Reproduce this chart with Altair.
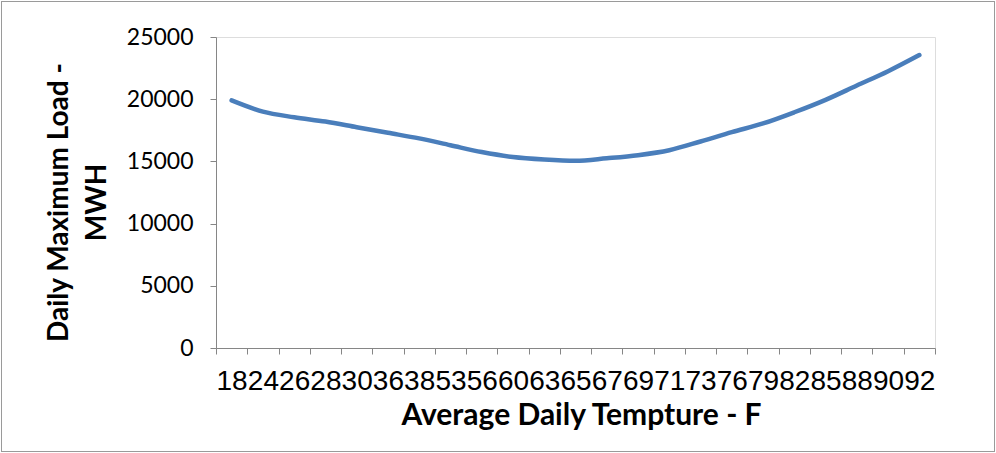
import altair as alt
import pandas as pd

temps = ["18", "24", "26", "28", "30", "36", "38", "53", "56", "60", "63", "65",
         "67", "69", "71", "73", "76", "79", "82", "85", "88", "90", "92"]
loads = [19900, 19000, 18550, 18200, 17750, 17300, 16850, 16300, 15750, 15350,
         15150, 15050, 15250, 15500, 15900, 16600, 17350, 18050, 18950, 19950,
         21100, 22250, 23550]

W, H = 719, 311

df = pd.DataFrame({"temp": temps, "load": loads})

gray = "#868686"

line = alt.Chart(df).mark_line(color="#4a7ebb", strokeWidth=4.5, interpolate="monotone",
                               strokeCap="round").encode(
    x=alt.X("temp:O", sort=temps, scale=alt.Scale(type="band", paddingInner=0, paddingOuter=0),
            axis=alt.Axis(tickBand="extent", grid=False, labelAngle=0,
                          labelFont="Liberation Sans", labelFontSize=28,
                          labelColor="#000000", labelBaseline="alphabetic", labelPadding=35,
                          labelAlign="center", labelOverlap=False, labelFlush=False,
                          tickSize=6, tickColor=gray, domainColor=gray,
                          title="Average Daily Tempture - F", titleFont="Lato",
                          titleFontWeight="bold", titleFontSize=30, titleColor="#000000",
                          titleX=365, titleY=76, titleBaseline="alphabetic",
                          titleAlign="center")),
    y=alt.Y("load:Q", scale=alt.Scale(domain=[0, 25000], nice=False),
            axis=alt.Axis(values=[0, 5000, 10000, 15000, 20000, 25000], grid=False,
                          format="d", labelFont="Lato", labelFontSize=23,
                          labelColor="#000000", labelPadding=17,
                          tickSize=6, tickColor=gray, domainColor=gray,
                          title=["Daily Maximum Load -", "MWH"], titleFont="Lato",
                          titleFontWeight="bold", titleFontSize=28, titleColor="#000000",
                          titleAngle=-90, titleX=-149, titleY=165,
                          titleBaseline="alphabetic", titleAlign="center",
                          titleLineHeight=38)),
)

border = alt.Chart(df).mark_rect(fill=None, stroke="#9a9a9a", strokeWidth=1).encode(
    x=alt.value(-214.5), x2=alt.value(778.5), y=alt.value(-35.5), y2=alt.value(414.5)
)

chart = alt.layer(border, line).properties(
    width=W, height=H,
    autosize=alt.AutoSizeParams(type="none"),
    padding={"left": 216, "top": 37, "right": 61, "bottom": 105},
).configure_view(stroke=None).configure(background="white")

chart.save("out.html", embed_options={"renderer": "svg", "actions": False})
